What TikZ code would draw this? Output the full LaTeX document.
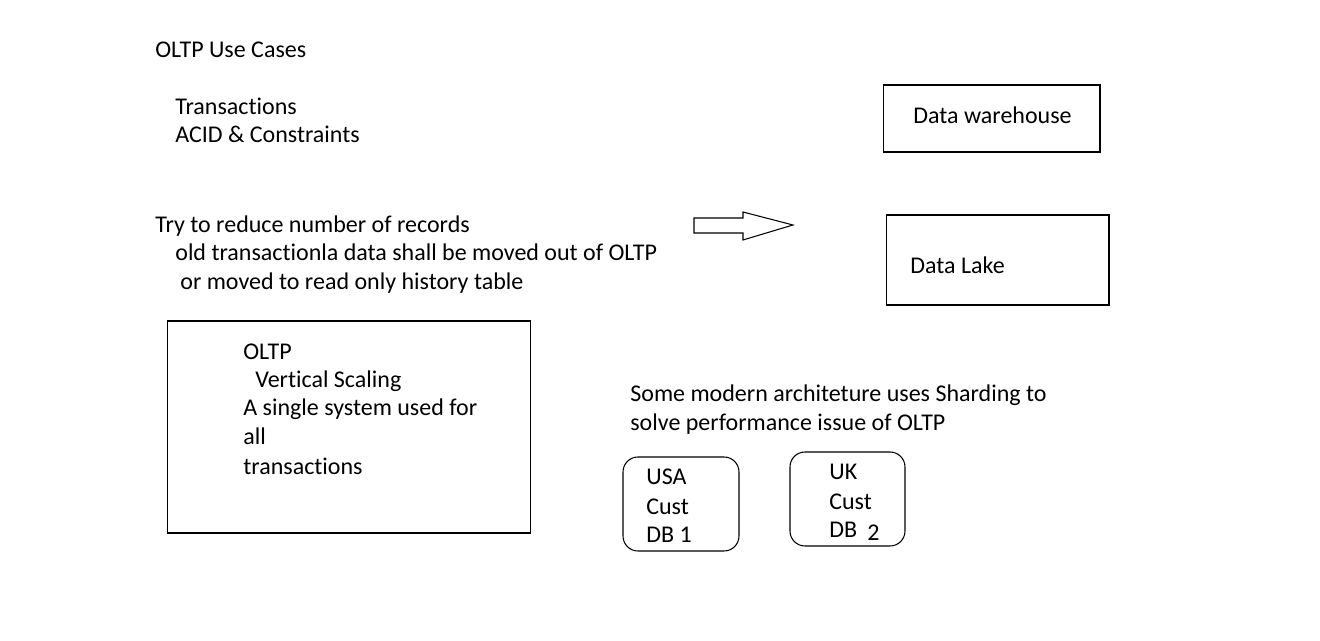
\documentclass[tikz,border=0pt]{standalone}
\usepackage{fontspec}
\setmainfont{Carlito}[RawFeature=-liga]
\tikzset{
  txt/.style={anchor=base west, inner sep=0pt, yshift=-1.5pt, font=\fontsize{13.66pt}{16.4pt}\selectfont},
  box/.style={draw, line width=0.6pt, inner sep=0pt},
  shardbox/.style={box, rounded corners=8.5pt},
}
\begin{document}
\begin{tikzpicture}[x=0.02cm, y=-0.02cm]
    \useasboundingbox (0,0) rectangle (1320,641);

    % Boxes
    \node[box, minimum width=7.28cm, minimum height=4.24cm] (OLTPBox) at (349,427) {};
    \node[box, minimum width=4.34cm, minimum height=1.34cm] (WarehouseBox) at (991.5,118.5) {};
    \node[box, minimum width=4.46cm, minimum height=1.8cm] (LakeBox) at (997.5,260) {};
    \node[shardbox, minimum width=2.32cm, minimum height=1.88cm] (USABox) at (681,504) {};
    \node[shardbox, minimum width=2.30cm, minimum height=1.88cm] (UKBox) at (847.5,499) {};

    % Texts
    \node[txt] (UseCases) at (155,55) {OLTP Use Cases};
    \node[txt] (Trans) at (175,112) {Transactions};
    \node[txt] (Acid) at (175,140) {ACID \& Constraints};
    \node[txt] (Reduce) at (155,230) {Try to reduce number of records};
    \node[txt] (MoveOut) at (175,258) {old transactionla data shall be moved out of OLTP};
    \node[txt] (History) at (180,287) {or moved to read only history table};

    \node[txt] (OLTP) at (243,357) {OLTP};
    \node[txt] (Vertical) at (255,385) {Vertical Scaling};
    \node[txt] (Single) at (243,413) {A single system used for};
    \node[txt] (All) at (243,442) {all};
    \node[txt] (AllTrans) at (243,472) {transactions};

    \node[txt] (Warehouse) at (913,121) {Data warehouse};
    \node[txt] (Lake) at (910,271) {Data Lake};

    \node[txt] (Modern) at (630,399) {Some modern architeture uses Sharding to};
    \node[txt] (Solve) at (630,428) {solve performance issue of OLTP};

    \node[txt] (USA) at (646,482) {USA};
    \node[txt] (USACust) at (646,512) {Cust};
    \node[txt] (USADB) at (646,540) {DB 1};

    \node[txt] (UK) at (829,477) {UK};
    \node[txt] (UKCust) at (829,507) {Cust};
    \node[txt] (UKDB) at (829,535) {DB};
    \node[txt] (UKTwo) at (867,538) {2};

    % Block arrow
    \draw[line width=0.6pt] (694,218) -- (743,218) -- (743,212) -- (793,225)
        -- (743,240) -- (743,233) -- (694,233) -- cycle;
\end{tikzpicture}
\end{document}
